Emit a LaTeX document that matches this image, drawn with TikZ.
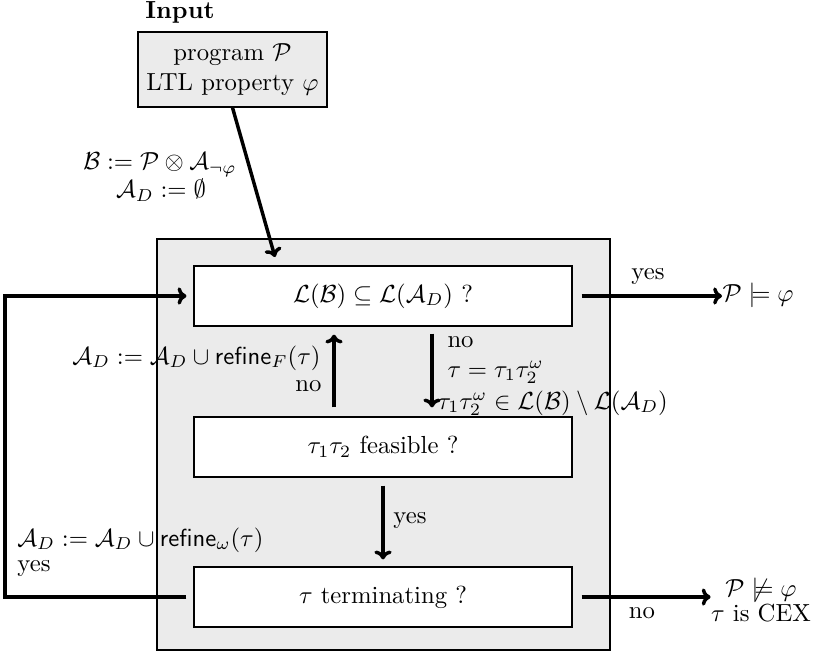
\documentclass[tikz,border=0pt]{standalone}
\usepackage{amsmath,amssymb}
\usetikzlibrary{calc,arrows.meta}
\definecolor{boxgray}{HTML}{EBEBEB}
\begin{document}
\begin{tikzpicture}[x=0.405pt,y=-0.405pt,
  arr/.style={line width=1.4pt,-{To[length=3.6pt,width=7pt]}},
  stepbox/.style={draw,line width=0.5pt,fill=white,minimum width=153.1pt,minimum height=24.3pt,inner sep=0pt},
  lbl/.style={inner sep=0pt}]
\useasboundingbox (0,0) rectangle (815,657);
% input
\node[lbl] (inlabel) at (180,12) {\textbf{Input}};
\node[draw,line width=0.5pt,fill=boxgray,minimum width=76.5pt,minimum height=30.4pt,align=center,inner sep=0pt] (inbox) at (232.5,69.5) {program $\mathcal{P}$\\LTL property $\varphi$};
% big container
\node[draw,line width=0.5pt,fill=boxgray,minimum width=183.5pt,minimum height=166.5pt] (big) at (383.5,444.5) {};
% step boxes
\node[stepbox] (top) at (383,296) {$\mathcal{L}(\mathcal{B}) \subseteq \mathcal{L}(\mathcal{A}_D)$ ?};
\node[stepbox] (mid) at (383,447) {$\tau_1\tau_2$ feasible ?};
\node[stepbox] (bot) at (383,597) {$\tau$ terminating ?};
% init arrow
\coordinate (entry) at (275,257);
\draw[arr] (inbox.south) -- (entry);
\node[lbl] (initB) at (160,165) {$\mathcal{B} := \mathcal{P} \otimes \mathcal{A}_{\neg\varphi}$};
\node[lbl] (initA) at (161,190) {$\mathcal{A}_D := \emptyset$};
% yes -> P |= phi
\node[lbl,anchor=west] (sat) at (722,295) {$\mathcal{P} \models \varphi$};
\draw[arr,shorten <=3.6pt] (top.east) -- (top.east -| sat.west);
\node[lbl] (yes1) at (648,276) {yes};
% no -> CEX
\node[lbl,align=center] (cex) at (761,600) {$\mathcal{P} \not\models \varphi$\\[-1.8pt]$\tau$ is CEX};
\draw[arr,shorten <=3.6pt] (bot.east) -- (bot.east -| cex.west);
\node[lbl] (no3) at (642,613) {no};
% up arrow (refine_F)
\draw[arr] ($(mid.north)+(-49,-9)$) -- ($(top.south)+(-49,8)$);
\node[lbl,anchor=east] (refF) at (321,358) {$\mathcal{A}_D := \mathcal{A}_D \cup \mathsf{refine}_F(\tau)$};
\node[lbl,anchor=east] (no2) at (322,386) {no};
% down arrow (no)
\draw[arr] ($(top.south)+(49,7)$) -- ($(mid.north)+(49,-9)$);
\node[lbl,anchor=west] (no1) at (447,342) {no};
\node[lbl,anchor=west] (tau) at (447,372) {$\tau = \tau_1\tau_2^\omega$};
\node[lbl,anchor=west] (taumem) at (437,403) {$\tau_1\tau_2^\omega \in \mathcal{L}(\mathcal{B}) \setminus \mathcal{L}(\mathcal{A}_D)$};
% yes down arrow
\draw[arr] ($(mid.south)+(0,8)$) -- ($(bot.north)+(0,-7)$);
\node[lbl,anchor=west] (yes2) at (393,520) {yes};
% left loop
\coordinate (lb) at (5,597);
\draw[arr,shorten <=2.8pt,shorten >=2.8pt] (bot.west) -- (lb) |- (top.west);
\node[lbl,anchor=west] (refW) at (17,540) {$\mathcal{A}_D := \mathcal{A}_D \cup \mathsf{refine}_\omega(\tau)$};
\node[lbl,anchor=west] (yes3) at (17,568) {yes};
\end{tikzpicture}
\end{document}
